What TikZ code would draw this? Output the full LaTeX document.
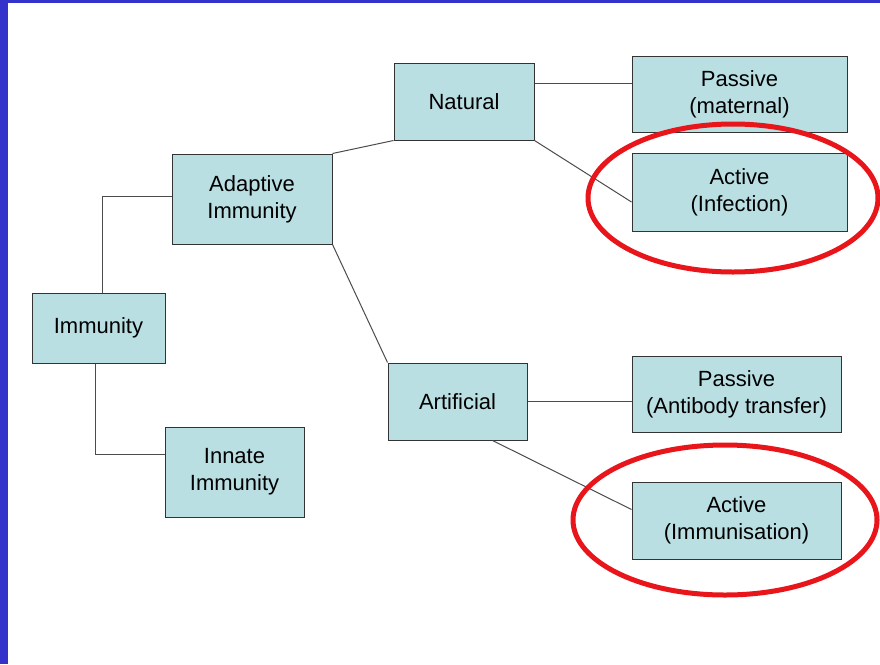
\documentclass[tikz,border=0pt]{standalone}
\usepackage{fontspec}
\setmainfont{Liberation Sans}
\definecolor{boxfill}{RGB}{185,223,227}
\definecolor{slideblue}{RGB}{51,51,204}
\definecolor{ringred}{RGB}{232,22,26}
\begin{document}
\begin{tikzpicture}[x=1pt,y=-1pt]
      \tikzset{box node/.style={rectangle,draw=black!80, fill=boxfill, line width=1pt, inner sep=0pt, align=center, font=\fontsize{22}{27}\selectfont},
               link/.style={draw=black!70, line width=1pt}}
      \useasboundingbox (0,0) rectangle (880,664);
      \fill[white] (0,0) rectangle (880,664);
      \fill[slideblue] (0,0) rectangle (8,664);
      \fill[slideblue] (0,0) rectangle (880,3);
      % boxes
      \node[box node, minimum width=133pt, minimum height=70pt] (imm) at (98.5,328) {Immunity};
      \node[box node, minimum width=160pt, minimum height=90pt] (adapt) at (252,199) {Adaptive\\Immunity};
      \node[box node, minimum width=139pt, minimum height=90pt] (innate) at (234.5,472) {Innate\\Immunity};
      \node[box node, minimum width=140pt, minimum height=77pt] (nat) at (464,101.5) {Natural};
      \node[box node, minimum width=139pt, minimum height=77pt] (art) at (457.5,401.5) {Artificial};
      \node[box node, minimum width=215pt, minimum height=76pt] (pasm) at (739.5,94) {Passive\\(maternal)};
      \node[box node, minimum width=215pt, minimum height=78pt] (actinf) at (739.5,192) {Active\\(Infection)};
      \node[box node, minimum width=209pt, minimum height=76pt] (pasa) at (736.5,394) {Passive\\(Antibody transfer)};
      \node[box node, minimum width=209pt, minimum height=77pt] (actim) at (736.5,520.5) {Active\\(Immunisation)};
      % connectors
      \draw[link] ([xshift=3.5pt]imm.north) |- ([yshift=3pt]adapt.west);
      \draw[link] ([xshift=-3.5pt]imm.south) |- ([yshift=18pt]innate.west);
      \draw[link] (adapt.north east) -- (nat.south west);
      \draw[link] (adapt.south east) -- (art.north west);
      \coordinate (natout) at ([yshift=18pt]nat.east);
      \draw[link] (natout) -- (natout -| pasm.west);
      \draw[link] (nat.south east) -- ([yshift=-10pt]actinf.west);
      \draw[link] (art.east) -- (art.east -| pasa.west);
      \draw[link] ([xshift=35pt]art.south) -- ([yshift=11pt]actim.west);
      % red rings
      \draw[ringred, line width=5pt] (733,198) ellipse [x radius=145, y radius=74];
      \draw[ringred, line width=5pt] (725,520) ellipse [x radius=152, y radius=75];
    \end{tikzpicture}
\end{document}
